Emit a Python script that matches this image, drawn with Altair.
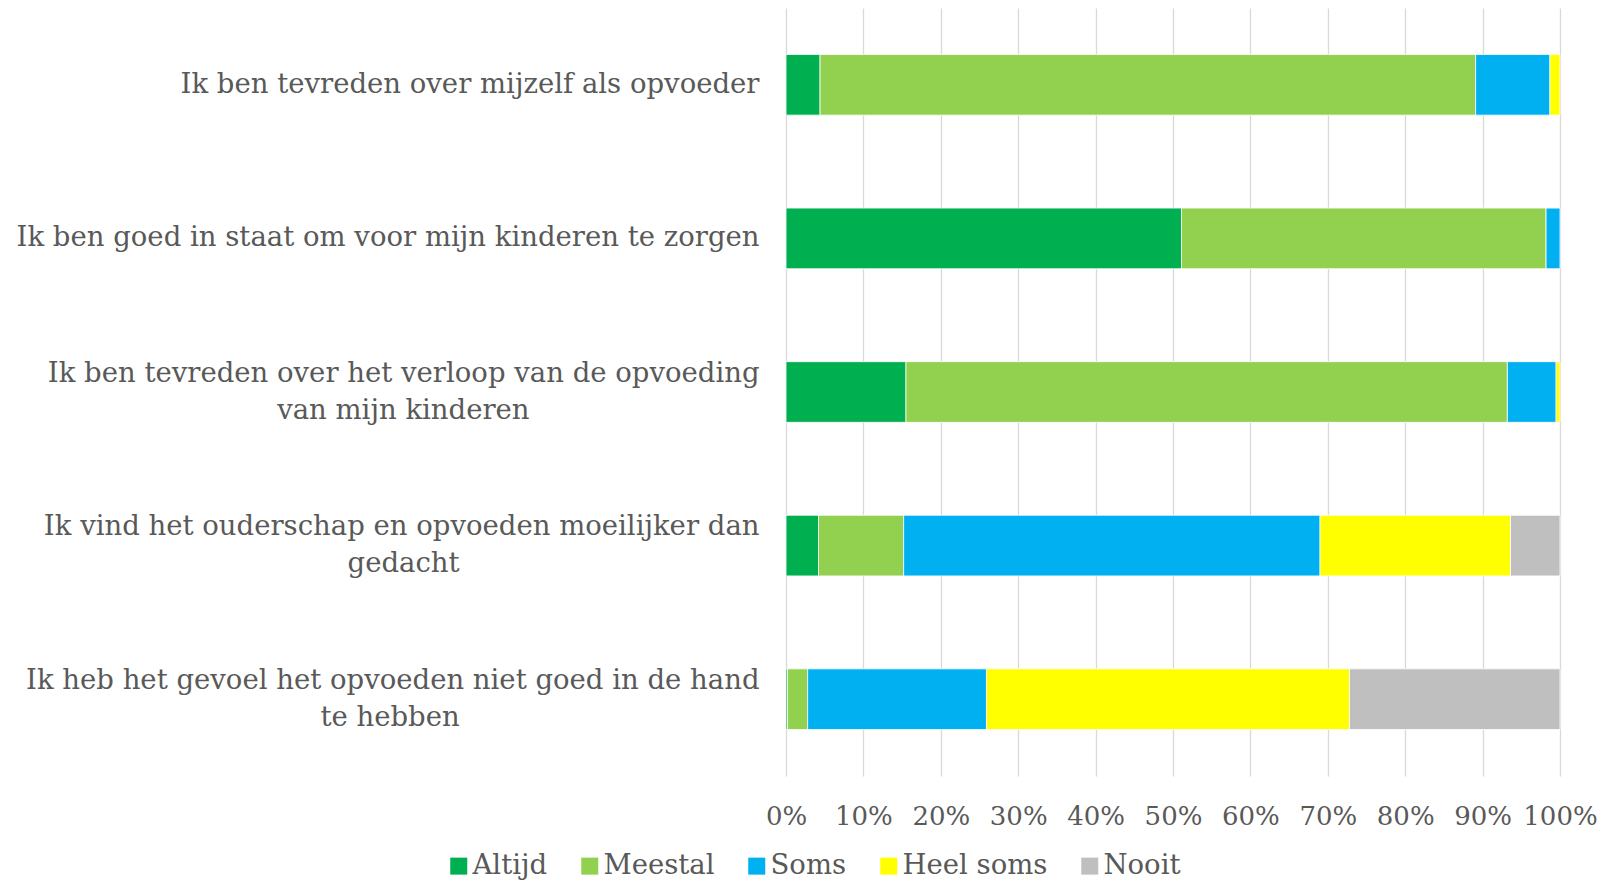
import altair as alt
import pandas as pd

# ---- data ----
statements = [
    ["Ik ben tevreden over mijzelf als opvoeder"],
    ["Ik ben goed in staat om voor mijn kinderen te zorgen"],
    ["Ik ben tevreden over het verloop van de opvoeding", "van mijn kinderen"],
    ["Ik vind het ouderschap en opvoeden moeilijker dan", "gedacht"],
    ["Ik heb het gevoel het opvoeden niet goed in de hand", "te hebben"],
]
answers = ["Altijd", "Meestal", "Soms", "Heel soms", "Nooit"]
colors = ["#00B050", "#92D050", "#00B0F0", "#FFFF00", "#BFBFBF"]
altijd = [4.4, 51.1, 15.5, 4.2, 0.2]
meestal = [84.7, 47.1, 77.7, 11.0, 2.6]
soms = [9.6, 1.8, 6.3, 53.8, 23.1]
heel_soms = [1.3, 0.0, 0.5, 24.6, 46.9]
nooit = [0.0, 0.0, 0.0, 6.4, 27.2]
x_ticks = [0, 0.1, 0.2, 0.3, 0.4, 0.5, 0.6, 0.7, 0.8, 0.9, 1.0]

FONT = "DejaVu Serif"
FS = 27.5
TEXT = "#595959"
LINE_H = 37

# approximate DejaVu Serif advance widths (em), used to centre 2nd label lines
_w = {"a": .60, "b": .64, "c": .55, "d": .64, "e": .59, "f": .37, "g": .64, "h": .64,
      "i": .32, "j": .32, "k": .61, "l": .32, "m": .95, "n": .64, "o": .60, "p": .64,
      "r": .48, "s": .51, "t": .40, "u": .64, "v": .57, "w": .82, "z": .52, " ": .32,
      "I": .37}
BLANK = "\u2800"   # blank glyph, closes the padding so it is not trimmed
BLANK_W = 0.732
NBSP = "\u00a0"
NBSP_W = 0.318


def tw(s):
    return sum(_w.get(c, .6) for c in s)


def label_of(lines):
    if len(lines) == 1:
        return lines[0]
    pad = (tw(lines[0]) - tw(lines[1])) / 2
    k = max(0, int(round((pad - BLANK_W) / NBSP_W)))
    return lines[0] + "|" + lines[1] + NBSP * k + BLANK


labels = [label_of(l) for l in statements]

series = [altijd, meestal, soms, heel_soms, nooit]
rows = []
for ai, (ans, vals) in enumerate(zip(answers, series)):
    for si, v in enumerate(vals):
        if v > 0:
            rows.append({"stelling": labels[si], "antwoord": ans, "waarde": v, "ord": ai})
df = pd.DataFrame(rows)

chart = (
    alt.Chart(df)
    .mark_bar(stroke="white", strokeWidth=0.8)
    .encode(
        y=alt.Y(
            "stelling:N",
            sort=labels,
            scale=alt.Scale(paddingInner=0.605, paddingOuter=0.3025),
            axis=alt.Axis(
                title=None,
                domain=False,
                ticks=False,
                labelExpr="split(datum.label, '|')",
                labelFont=FONT,
                labelFontSize=FS,
                labelColor=TEXT,
                labelLineHeight=LINE_H,
                labelOffset={"condition": {"test": "indexof(datum.label, '|') >= 0",
                                           "value": -LINE_H / 2},
                             "value": 0},
                labelPadding=27,
                labelLimit=1000,
                labelAlign="right",
            ),
        ),
        x=alt.X(
            "waarde:Q",
            stack="normalize",
            scale=alt.Scale(domain=[0, 1]),
            axis=alt.Axis(
                title=None,
                values=x_ticks,
                format=".0%",
                domain=False,
                ticks=False,
                grid=True,
                gridColor="#D9D9D9",
                gridWidth=1.3,
                labelFont=FONT,
                labelFontSize=26,
                labelColor=TEXT,
                labelPadding=27,
                labelFlush=False,
            ),
        ),
        color=alt.Color(
            "antwoord:N",
            sort=answers,
            scale=alt.Scale(domain=answers, range=colors),
            legend=alt.Legend(
                title=None,
                orient="none",
                direction="horizontal",
                legendX=-341,
                legendY=844,
                symbolType="square",
                symbolSize=289,
                symbolStrokeWidth=0,
                labelFont=FONT,
                labelFontSize=27.5,
                labelColor=TEXT,
                labelOffset=0,
                columnPadding=28,
                labelLimit=400,
            ),
        ),
        order=alt.Order("ord:Q"),
    )
    .properties(
        width=774,
        height=768,
        autosize=alt.AutoSizeParams(type="none"),
        padding={"left": 778, "top": 0, "right": 46, "bottom": 105},
    )
    .configure_view(stroke=None)
)

chart.save("out.html", embed_options={"renderer": "svg", "actions": False})
